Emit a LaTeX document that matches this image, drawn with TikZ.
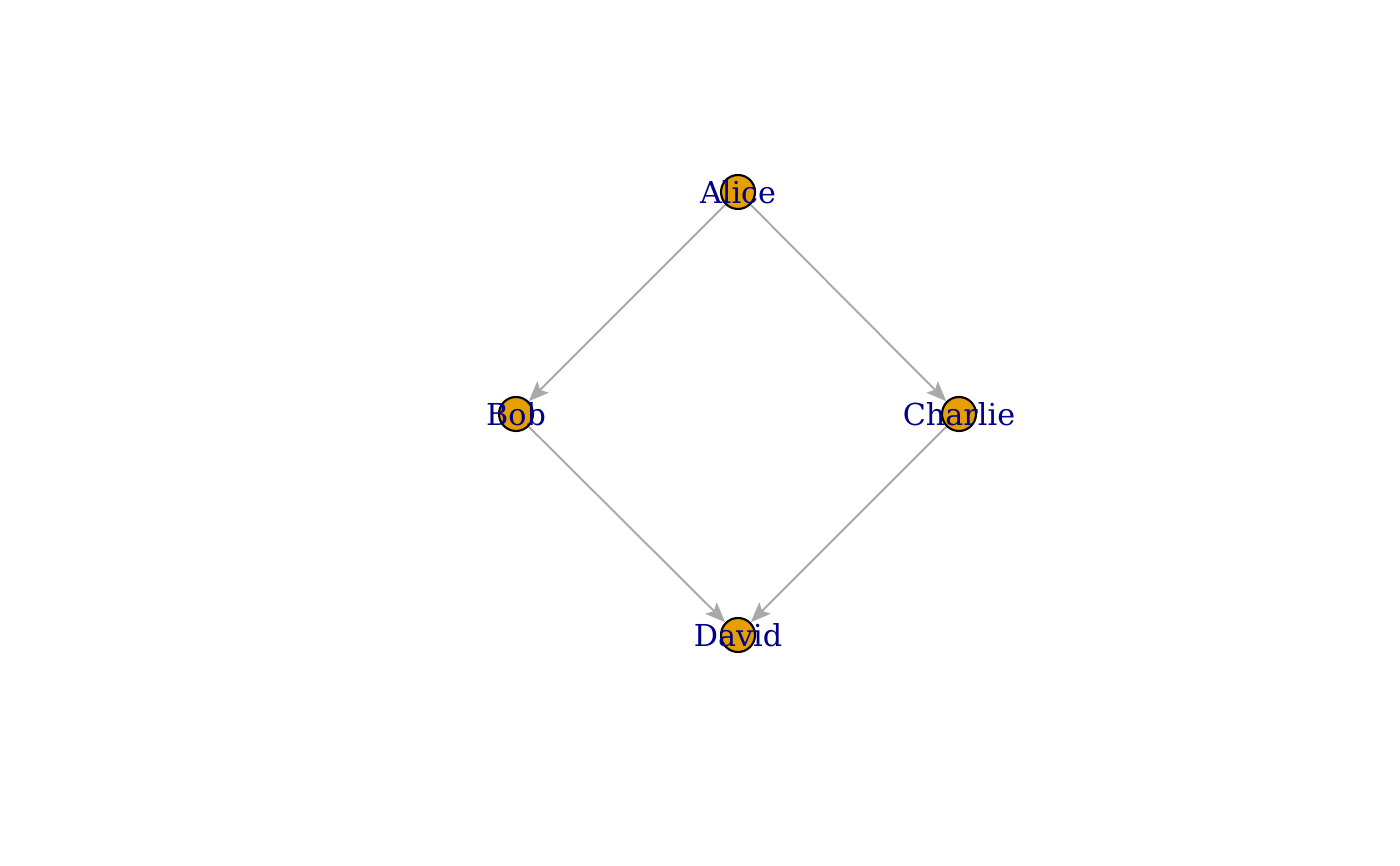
\documentclass[tikz,border=0pt]{standalone}
\usepackage{fontspec}
\setmainfont{DejaVu Serif}
\usepackage{tikz}
\usetikzlibrary{arrows.meta}
\definecolor{vfill}{HTML}{E69F00}
\definecolor{vlabel}{HTML}{00008B}
\definecolor{egray}{HTML}{A9A9A9}

\begin{document}
\begin{tikzpicture}[x=1cm,y=1cm,
    vert/.style={circle, draw=black, fill=vfill, line width=0.6pt,
                 inner sep=0pt, minimum size=3.4mm},
    lbl/.style={text=vlabel, font=\fontsize{8.6}{10}\selectfont, inner sep=0pt},
    edge/.style={draw=egray, line width=0.55pt,
                 -{Stealth[length=2mm, width=1.6mm, inset=0.4mm]}}]

  % ---- the frame, same size as the output page ----
  \useasboundingbox (0,0) rectangle (14,8.66);

  % ---- vertices ----
  \node[vert] (alice)   at (7.38,6.74) {};
  \node[vert] (bob)     at (5.16,4.52) {};
  \node[vert] (charlie) at (9.59,4.52) {};
  \node[vert] (david)   at (7.38,2.31) {};

  % ---- edges ----
  \draw[edge] (alice) -- (bob);
  \draw[edge] (alice) -- (charlie);
  \draw[edge] (bob) -- (david);
  \draw[edge] (charlie) -- (david);

  % ---- labels, on top of the vertices ----
  \node[lbl] (alicetxt)   at (alice)   {Alice};
  \node[lbl] (bobtxt)     at (bob)     {Bob};
  \node[lbl] (charlietxt) at (charlie) {Charlie};
  \node[lbl] (davidtxt)   at (david)   {David};
\end{tikzpicture}
\end{document}
